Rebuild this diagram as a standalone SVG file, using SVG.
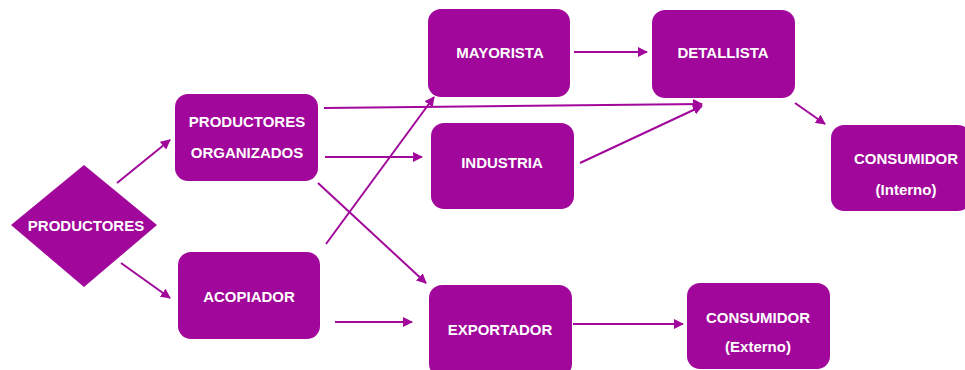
<svg xmlns="http://www.w3.org/2000/svg" width="965" height="370" viewBox="0 0 965 370">
<style>
.n{fill:#A0079A}
.t{fill:#fff;font-family:"Liberation Sans",Arial,sans-serif;font-weight:bold;font-size:15px;text-anchor:middle;dominant-baseline:central}
.c{stroke:#A0079A;stroke-width:2;fill:none;marker-end:url(#a)}
</style>
<defs>
<marker id="a" viewBox="0 0 10 10" refX="9" refY="5" markerWidth="5" markerHeight="5" orient="auto" markerUnits="strokeWidth">
<path d="M0,0 L10,5 L0,10 z" fill="#A0079A"/>
</marker>
</defs>
<rect width="965" height="370" fill="#fff"/>
<g id="connectors">
<line class="c" x1="117" y1="183" x2="170" y2="140"/>
<line class="c" x1="121" y1="263" x2="170" y2="298"/>
<line class="c" x1="324" y1="108" x2="702" y2="104"/>
<line class="c" x1="325" y1="157" x2="422" y2="157"/>
<line class="c" x1="318" y1="183" x2="426" y2="283"/>
<line class="c" x1="326" y1="244" x2="434" y2="97"/>
<line class="c" x1="580" y1="163" x2="702" y2="106"/>
<line class="c" x1="574" y1="52" x2="647" y2="52"/>
<line class="c" x1="795" y1="103" x2="825" y2="124"/>
<line class="c" x1="335" y1="322" x2="412" y2="322"/>
<line class="c" x1="573" y1="324" x2="683" y2="324"/>
</g>
<g id="productores">
<polygon class="n" points="11,225 84,165 157,225 84,287"/>
<text class="t" x="86" y="225">PRODUCTORES</text>
</g>
<g id="productores-organizados">
<rect class="n" x="175" y="94" width="143" height="87" rx="13"/>
<text class="t" x="247" y="121">PRODUCTORES</text>
<text class="t" x="247" y="152">ORGANIZADOS</text>
</g>
<g id="acopiador">
<rect class="n" x="178" y="252" width="142" height="87" rx="13"/>
<text class="t" x="249" y="296">ACOPIADOR</text>
</g>
<g id="mayorista">
<rect class="n" x="428" y="9" width="142" height="88" rx="13"/>
<text class="t" x="500" y="52">MAYORISTA</text>
</g>
<g id="industria">
<rect class="n" x="431" y="123" width="143" height="86" rx="13"/>
<text class="t" x="502" y="162">INDUSTRIA</text>
</g>
<g id="detallista">
<rect class="n" x="652" y="10" width="143" height="88" rx="13"/>
<text class="t" x="723" y="52">DETALLISTA</text>
</g>
<g id="consumidor-interno">
<rect class="n" x="831" y="125" width="140" height="86" rx="13"/>
<text class="t" x="906" y="158">CONSUMIDOR</text>
<text class="t" x="906" y="189">(Interno)</text>
</g>
<g id="exportador">
<rect class="n" x="429" y="285" width="143" height="92" rx="13"/>
<text class="t" x="500" y="329">EXPORTADOR</text>
</g>
<g id="consumidor-externo">
<rect class="n" x="687" y="283" width="143" height="86" rx="13"/>
<text class="t" x="758" y="317">CONSUMIDOR</text>
<text class="t" x="758" y="346">(Externo)</text>
</g>
</svg>
